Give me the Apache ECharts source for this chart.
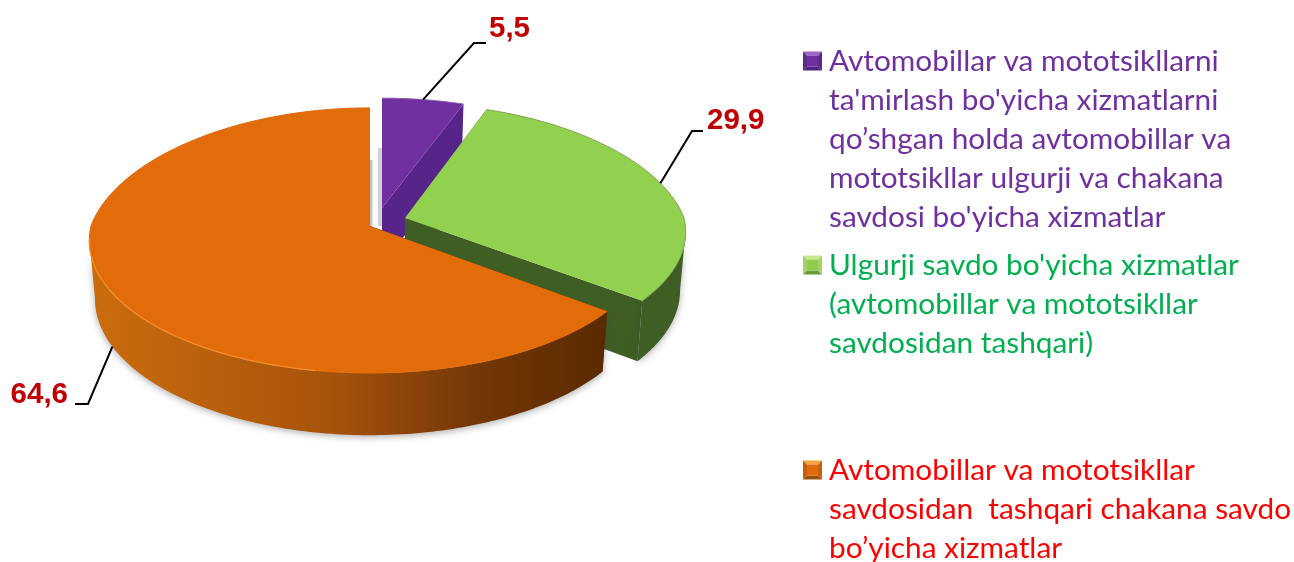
<!DOCTYPE html>
<html>
<head>
<meta charset="utf-8">
<style>
  html, body { margin: 0; padding: 0; background: #fff; }
  #main { width: 1294px; height: 562px; }
</style>
<script src="https://cdn.jsdelivr.net/npm/echarts@6/dist/echarts.min.js"></script>
</head>
<body>
<div id="main"></div>
<script>
const shares = [5.5, 29.9, 64.6];
const shareLabels = ['5,5', '29,9', '64,6'];
const legendLines = [
  ['Avtomobillar va mototsikllarni', "ta'mirlash bo'yicha xizmatlarni", 'qo’shgan holda avtomobillar va', 'mototsikllar ulgurji va chakana', "savdosi bo'yicha xizmatlar"],
  ["Ulgurji savdo bo'yicha xizmatlar", '(avtomobillar va mototsikllar', 'savdosidan tashqari)'],
  ['Avtomobillar va mototsikllar', 'savdosidan  tashqari chakana savdo', 'bo’yicha xizmatlar']
];
const legendColors = ['#7030a0', '#00b050', '#ff0000'];

// drawing setup for the fake 3d pie
const RX = 279, RY = 131, PERSP = 0.109, PERSP_BACK_X = 0.17, DEPTH = 58, BOTTOM_SCALE = 0.98;
// only this part of the rim faces the viewer
const WALL_FROM = 96, WALL_TO = 264;
const sliceStyle = [
  { apex: [382, 208], ry: 0.93, top: '#7030a0', wall: '#4f2380', cut: '#57258a', edge: '#8a5ab8' },
  { apex: [405, 218], ry: 0.97, top: '#92d050', wall: '#3f5e24', cut: '#3f5e24', edge: '#7da64e' },
  { apex: [370, 226], ry: 1, top: '#e26b0a', cut: '#5a2b00', edge: '#e26b0a' }
];
const orangeWall = new echarts.graphic.LinearGradient(0, 0, 1, 0, [
  { offset: 0, color: '#cc6c0e' },
  { offset: 0.45, color: '#a9540b' },
  { offset: 0.75, color: '#743708' },
  { offset: 1, color: '#592a00' }
]);
// elbow and end of each leader line, then label position
const leaders = [
  { elbow: [474, 43], end: [486, 43], text: [489, 29], align: 'left', lower: false },
  { elbow: [692, 131], end: [703, 131], text: [707, 121], align: 'left', lower: false },
  { elbow: [88, 404], end: [75, 404], text: [68, 395], align: 'right', lower: true }
];

const total = shares.reduce((a, b) => a + b, 0);

function rim(i, deg, down) {
  const s = sliceStyle[i];
  const t = deg * Math.PI / 180;
  const X = Math.sin(t), Y = Math.cos(t);
  const k = 1 / (1 + PERSP * Y);
  const kx = Y > 0 ? 1 / (1 + PERSP_BACK_X * Y) : k;
  const f = down ? BOTTOM_SCALE : 1;
  return [
    s.apex[0] + RX * X * kx * f,
    s.apex[1] - RY * s.ry * Y * k * f + (down ? DEPTH * k : 0)
  ];
}

function apexPoint(i, down) {
  const s = sliceStyle[i];
  return [s.apex[0], s.apex[1] + (down ? DEPTH : 0)];
}

function arc(i, from, to, down) {
  const pts = [];
  const n = Math.ceil(Math.abs(to - from));
  for (let j = 0; j <= n; j++) {
    pts.push(rim(i, from + (to - from) * j / n, down));
  }
  return pts;
}

function renderSlice(params, api) {
  const i = api.value(0);
  let start = 0;
  for (let j = 0; j < i; j++) start += shares[j];
  const from = start / total * 360;
  const to = (start + api.value(1)) / total * 360;
  const mid = (from + to) / 2;
  const s = sliceStyle[i];
  const wallFill = s.wall || orangeWall;
  const children = [];

  // thin grey shadow in the gap behind the purple and orange cuts
  if (i === 0) {
    children.push({ type: 'rect', shape: { x: 378, y: 148, width: 4, height: 78 }, style: { fill: '#cfd0da' } });
    children.push({ type: 'rect', shape: { x: 369, y: 160, width: 3.5, height: 66 }, style: { fill: '#c4c4c4' } });
  }

  // cut faces
  [from, to].forEach(function (a) {
    children.push({
      type: 'polygon',
      shape: { points: [apexPoint(i, false), rim(i, a, false), rim(i, a, true), apexPoint(i, true)] },
      style: { fill: s.cut }
    });
  });
  // outer wall
  const wallA = Math.max(from, WALL_FROM), wallB = Math.min(to, WALL_TO);
  if (wallB > wallA) {
    children.push({
      type: 'polygon',
      shape: { points: arc(i, wallA, wallB, false).concat(arc(i, wallB, wallA, true)) },
      style: { fill: wallFill, shadowBlur: 7, shadowColor: 'rgba(60,60,60,0.4)', shadowOffsetY: 2 }
    });
  }
  // top face
  children.push({
    type: 'polygon',
    shape: { points: [apexPoint(i, false)].concat(arc(i, from, to, false)) },
    style: { fill: s.top }
  });
  children.push({
    type: 'polyline',
    shape: { points: arc(i, from, to, false) },
    style: { fill: 'none', stroke: s.edge, lineWidth: 1 }
  });
  // light streak on the front left of the big slice
  if (i === 2) {
    children.push({
      type: 'polyline',
      shape: { points: arc(i, 190, 264, false) },
      style: { fill: 'none', stroke: '#f28f2e', lineWidth: 1.3 }
    });
  }

  // leader line and value
  const l = leaders[i];
  children.push({
    type: 'polyline',
    shape: { points: [rim(i, mid, l.lower), l.elbow, l.end] },
    style: { fill: 'none', stroke: '#000', lineWidth: 2 }
  });
  children.push({
    type: 'text',
    style: {
      text: shareLabels[i],
      x: l.text[0], y: l.text[1],
      align: l.align, verticalAlign: 'middle',
      fill: '#c00000',
      font: 'bold 29.5px "Liberation Sans", Arial, sans-serif'
    }
  });
  return { type: 'group', children: children };
}

// legend drawn by hand, the wrapped lines and uneven gaps do not fit the built in one
const legendTop = [61, 265, 470];
const LINE_H = 39.2, TEXT_X = 829, BOX_X = 803, BOX = 19;
const swatch = [
  { mid: '#7030a0', light: '#9a66c4', dark: '#4f2380', side: '#5f2a90' },
  { mid: '#8fcb4e', light: '#c6e88c', dark: '#6d9a3c', side: '#a3d468' },
  { mid: '#e26b0a', light: '#f7a445', dark: '#99500f', side: '#c46010' }
];
const legendGraphics = [];
legendLines.forEach(function (lines, i) {
  const y0 = legendTop[i];
  const x = BOX_X, y = y0 - 9.5, c = swatch[i], b = 4;
  const tri = function (pts, fill) {
    legendGraphics.push({ type: 'polygon', shape: { points: pts }, style: { fill: fill } });
  };
  tri([[x, y], [x + BOX, y], [x + BOX - b, y + b], [x + b, y + b]], c.light);
  tri([[x, y + BOX], [x + BOX, y + BOX], [x + BOX - b, y + BOX - b], [x + b, y + BOX - b]], c.dark);
  tri([[x, y], [x + b, y + b], [x + b, y + BOX - b], [x, y + BOX]], c.side);
  tri([[x + BOX, y], [x + BOX - b, y + b], [x + BOX - b, y + BOX - b], [x + BOX, y + BOX]], c.side);
  tri([[x + b, y + b], [x + BOX - b, y + b], [x + BOX - b, y + BOX - b], [x + b, y + BOX - b]], c.mid);
  lines.forEach(function (line, j) {
    legendGraphics.push({
      type: 'text',
      style: {
        text: line,
        x: TEXT_X, y: y0 + j * LINE_H,
        verticalAlign: 'middle',
        fill: legendColors[i],
        font: '29.8px Lato, "Open Sans", sans-serif'
      }
    });
  });
});

const myChart = echarts.init(document.getElementById('main'));
myChart.setOption({
  backgroundColor: '#fff',
  animation: false,
  graphic: { elements: legendGraphics },
  series: [{
    type: 'custom',
    coordinateSystem: 'none',
    renderItem: renderSlice,
    data: shares.map((v, i) => [i, v]),
    silent: true
  }]
});
</script>
</body>
</html>
